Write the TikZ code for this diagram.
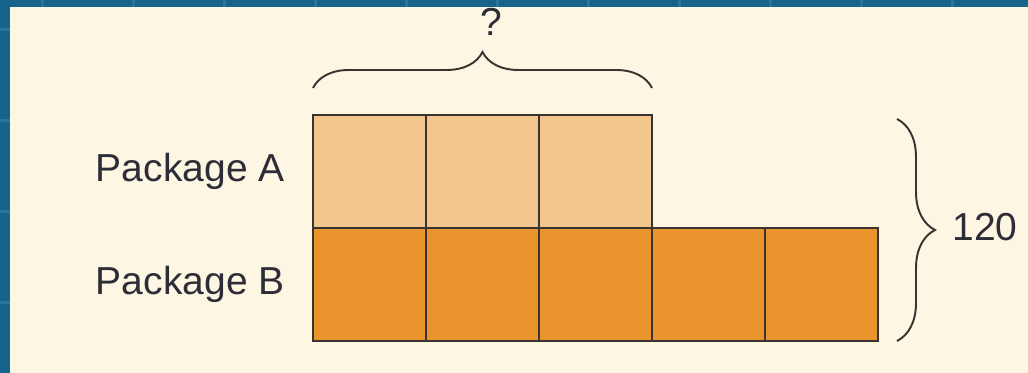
\documentclass[tikz,border=0pt]{standalone}
\usepackage{fontspec}
\setmainfont{Liberation Sans}
\usetikzlibrary{positioning,decorations.pathreplacing}
\definecolor{boardblue}{RGB}{22,100,140}
\definecolor{gridblue}{RGB}{44,116,156}
\definecolor{paper}{RGB}{253,246,226}
\definecolor{partlight}{RGB}{242,198,140}
\definecolor{partdark}{RGB}{234,148,46}
\definecolor{edgegray}{RGB}{58,52,48}
\definecolor{inkgray}{RGB}{45,45,55}

\begin{document}
\begin{tikzpicture}[
  unitA/.style={rectangle,draw=edgegray,fill=partlight,line width=1.1pt,
    minimum size=2.26cm,inner sep=0pt,outer sep=0pt},
  unitB/.style={unitA,fill=partdark},
  lbl/.style={inner sep=0pt,text=inkgray,font=\fontsize{22.2}{26}\selectfont},
  brc/.style={decorate,draw=edgegray,line width=1.1pt,
    decoration={brace,amplitude=#1}},
  brc/.default=0.72cm
]
% board
\useasboundingbox (0,0) rectangle (20.56,7.46);
\fill[boardblue] (0,0) rectangle (20.56,7.46);
\foreach \gx in {0.84,2.66,...,20.5}
  \draw[gridblue,line width=0.06cm] (\gx,0) -- (\gx,7.46);
\foreach \gy in {1.40,3.22,5.04,6.86}
  \draw[gridblue,line width=0.06cm] (0,\gy) -- (20.56,\gy);
\fill[paper] (0.2,0) rectangle (20.56,7.32);

% package A
\node[unitA] (a1) at (7.39,4.03) {};
\node[unitA,right=0pt of a1] (a2) {};
\node[unitA,right=0pt of a2] (a3) {};
% package B
\node[unitB,below=0pt of a1] (b1) {};
\node[unitB,right=0pt of b1] (b2) {};
\node[unitB,right=0pt of b2] (b3) {};
\node[unitB,right=0pt of b3] (b4) {};
\node[unitB,right=0pt of b4] (b5) {};

\node[lbl,left=0.56cm of a1] (pa) {Package A};
\node[lbl,left=0.56cm of b1] (pb) {Package B};

% braces
\coordinate[above=0.54cm of a1.north west] (qs);
\coordinate[above=0.54cm of a3.north east] (qe);
\draw[brc] (qs) -- (qe) node[midway,yshift=1.32cm,xshift=0.18cm,lbl] (q) {?};

\path (b5.east |- a1.north) ++(0.38,-0.08) coordinate (ts);
\path (b5.south east) ++(0.38,0) coordinate (te);
\draw[brc=0.76cm] (ts) -- (te) node[midway,xshift=1.76cm,yshift=0.06cm,lbl] (total) {120};
\end{tikzpicture}
\end{document}
